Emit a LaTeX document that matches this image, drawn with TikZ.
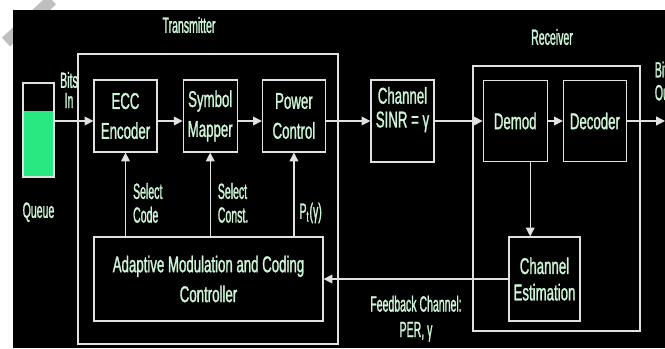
\documentclass[tikz,border=0pt]{standalone}
\usepackage{fontspec}
\setmainfont{Liberation Sans}[FakeStretch=0.58, FakeBold=1.2]
\newfontfamily\lblfont{Liberation Sans}[FakeStretch=0.48, FakeBold=1.2]
\usepackage{tikz}
\usetikzlibrary{arrows.meta,positioning,calc}
\definecolor{linecol}{RGB}{225,225,225}
\definecolor{txtcol}{RGB}{205,245,215}
\definecolor{queuegreen}{RGB}{40,232,130}

\begin{document}
\begin{tikzpicture}[x=0.02cm, y=-0.02cm,
blk/.style={draw=linecol, line width=0.7pt, text=txtcol, align=center, minimum width=1.26cm, minimum height=1.44cm, inner sep=0pt, font=\fontsize{13}{17}\selectfont},
outerbox/.style={draw=linecol, line width=0.7pt, minimum width=5.2cm, minimum height=5.8cm, inner sep=0pt},
lbl/.style={text=txtcol, align=left, font=\lblfont\fontsize{12.5}{13.5}\selectfont, inner sep=2pt},
line/.style={-{Triangle[length=5pt, width=5pt]}, draw=linecol, line width=0.7pt}
]
\useasboundingbox (0,0) rectangle (665,348);
\clip (0,0) rectangle (665,348);
\fill[white] (0,0) rectangle (665,348);
\draw[black!25, line width=0.24cm] (6,42) -- (52,0);
\fill[black] (13,10) rectangle (665,348);

\node[outerbox] (tx) at (208,199) {};
\node[outerbox, minimum width=3.34cm, minimum height=5.3cm] (rx) at (556.5,198.5) {};
\node[lbl, align=center] (txlabel) at (189,25) {Transmitter};
\node[lbl, align=center] (rxlabel) at (552,37) {Receiver};

\node[blk] (ecc) at (125.5,116) {ECC\\Encoder};
\node[blk, minimum width=1.08cm, right=0.5cm of ecc] (sym) {Symbol\\Mapper};
\node[blk, right=0.48cm of sym] (pow) {Power\\Control};
\node[blk, minimum height=1.64cm, text depth=0.55cm, font=\fontsize{13}{13.5}\selectfont] (chan) at (402.5,121) {Channel\\SINR = γ};
\node[blk, minimum width=1.28cm, minimum height=1.62cm, right=0.96cm of chan] (demod) {Demod};
\node[blk, minimum height=1.62cm, right=0.3cm of demod] (dec) {Decoder};
\node[blk, minimum width=1.42cm, minimum height=1.68cm, font=\fontsize{13}{15}\selectfont] (est) at (544.5,279) {Channel\\Estimation};
\node[blk, minimum width=4.58cm, minimum height=1.68cm] (amc) at (208.5,279) {Adaptive Modulation and Coding\\Controller};

\node[draw=linecol, line width=0.7pt, minimum width=0.62cm, minimum height=1.88cm, inner sep=0pt,
  path picture={\fill[queuegreen] (path picture bounding box.south west) rectangle ([yshift=-0.56cm]path picture bounding box.north east);}] (queue) at (38.5,130) {};
\node[lbl, below=0.42cm of queue] (queuelabel) {Queue};
\node[lbl, align=center, font=\lblfont\fontsize{12.5}{11.5}\selectfont] (bitsin) at (69,90) {Bits\\In};
\node[lbl, anchor=west, font=\lblfont\fontsize{12.5}{13}\selectfont] (bitsout) at (651,81) {Bits\\Out};
\coordinate (outend) at (665,121);

\draw[line] (queue.east |- chan) -- (ecc.west |- chan);
\draw[line] (ecc.east |- chan) -- (sym.west |- chan);
\draw[line] (sym.east |- chan) -- (pow.west |- chan);
\draw[line] (pow.east |- chan) -- (chan.west);
\draw[line] (chan.east) -- (demod.west |- chan);
\draw[line] (demod.east |- chan) -- (dec.west |- chan);
\draw[line] (dec.east |- chan) -- (outend);
\draw[line] ([xshift=0.3cm]demod.south) -- ([xshift=0.3cm]demod.south |- est.north);
\draw[line] (est.west) -- (amc.east) node[lbl, midway, below=0.25cm, align=center, font=\lblfont\fontsize{12.5}{14.5}\selectfont] {Feedback Channel:\\PER, γ};
\draw[line] (amc.north -| ecc) -- (ecc.south) node[lbl, pos=0.4, right=0.07cm] {Select\\Code};
\draw[line] (amc.north -| sym) -- (sym.south) node[lbl, pos=0.4, right=0.07cm] {Select\\Const.};
\draw[line] (amc.north -| pow) -- (pow.south) node[lbl, pos=0.28, right=0.03cm] {P\textsubscript{t}(γ)};
\end{tikzpicture}
\end{document}
